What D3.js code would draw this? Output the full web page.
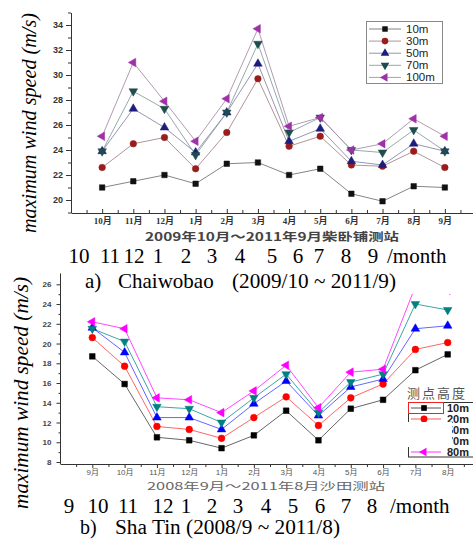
<!DOCTYPE html>
<html><head><meta charset="utf-8">
<script src="https://cdn.jsdelivr.net/npm/d3@7"></script>
<style>body{margin:0;background:#fff}svg{display:block}</style>
</head><body>
<script>
// ---- data: chart a) Chaiwobao ----
const monthsA = ["10月","11月","12月","1月","2月","3月","4月","5月","6月","7月","8月","9月"];
const seriesNamesA = ["10m","30m","50m","70m","100m"];
const a10m  = [21.0,21.5,22.0,21.3,22.9,23.0,22.0,22.5,20.5,19.9,21.1,21.0];
const a30m  = [22.6,24.5,25.0,22.5,25.4,29.7,24.3,25.1,22.8,22.7,23.9,22.6];
const a50m  = [23.9,27.3,25.8,23.8,27.0,30.9,24.7,25.7,23.1,22.8,24.5,23.9];
const a70m  = [23.9,28.7,27.3,23.6,27.0,32.5,25.4,26.6,24.0,23.8,25.6,23.9];
const a100m = [25.1,31.0,27.9,24.7,28.1,33.7,25.9,26.6,24.0,24.5,26.5,25.1];
const yTicksA = [20,22,24,26,28,30,32,34];

// ---- data: chart b) Sha Tin ----
const monthsB = ["9月","10月","11月","12月","1月","2月","3月","4月","5月","6月","7月","8月"];
const seriesNamesB = ["10m","20m","50m","70m","80m"];
const b10m = [18.7,15.9,10.5,10.2,9.4,10.7,13.2,10.2,13.4,14.3,17.3,18.9];
const b20m = [20.6,17.7,11.6,11.3,10.4,12.5,14.6,11.7,14.5,15.9,19.4,20.1];
const b50m = [21.6,19.1,12.5,12.5,11.3,13.9,16.2,12.7,15.6,16.4,21.5,21.8];
const b70m = [21.5,20.2,13.6,13.4,12.0,14.5,16.9,13.0,16.1,16.9,24.0,23.4];
const b80m = [22.2,21.5,14.5,14.3,13.0,15.2,17.8,13.5,17.1,17.4,25.8,25.4];
const yTicksB = [8,10,12,14,16,18,20,22,24,26];

const legendTitleB = "测点高度";
const subtitleA = "2009年10月～2011年9月柴卧铺测站";
const subtitleB = "2008年9月～2011年8月沙田测站";
const bigMonthsA = ["10","11","12","1","2","3","4","5","6","7","8","9"];
const bigMonthsB = ["9","10","11","12","1","2","3","4","5","6","7","8"];

const W = 473, H = 539;
const svg = d3.select("body").append("svg").attr("width", W).attr("height", H);

const shapes = [
  {t: d3.symbolSquare, r: 0},
  {t: d3.symbolCircle, r: 0},
  {t: d3.symbolTriangle, r: 0},
  {t: d3.symbolTriangle, r: 180},
  {t: d3.symbolTriangle, r: -90}
];

function markers(g, data, xs, ys, shape, size, fill, stroke) {
  g.selectAll(null).data(data).enter().append("path")
    .attr("d", d3.symbol().type(shape.t).size(size))
    .attr("transform", (d, i) => `translate(${xs(i + 1)},${ys(d)}) rotate(${shape.r})`)
    .attr("fill", fill).attr("stroke", stroke).attr("stroke-width", 0.5);
}

// ================= Chart A =================
{
  const x = d3.scaleLinear().domain([0, 13]).range([71, 476]);
  const y = d3.scaleLinear().domain([19, 35]).range([212.5, 12.5]);
  const g = svg.append("g");
  const sets = [a10m, a30m, a50m, a70m, a100m];
  const fills = ["#111111", "#9a1d1d", "#1d1d7d", "#1f4d4d", "#a030a8"];
  const lineCols = ["#777777", "#a88a8a", "#8a8aa8", "#8aa0a0", "#a890a8"];
  const sizes = [30, 34, 32, 32, 32];
  const line = d3.line().x((d, i) => x(i + 1)).y(d => y(d));
  sets.forEach((s, k) => {
    g.append("path").datum(s).attr("d", line).attr("fill", "none")
      .attr("stroke", lineCols[k]).attr("stroke-width", 0.9);
  });
  sets.forEach((s, k) => markers(g, s, x, y, shapes[k], sizes[k], fills[k], fills[k]));

  // y axis
  const ya = g.append("g").attr("transform", "translate(71,0)")
    .call(d3.axisLeft(y).tickValues(yTicksA).tickSize(5).tickSizeOuter(0).tickPadding(3));
  ya.selectAll("text").attr("font-family", "Liberation Sans, Arial").attr("font-weight", "bold")
    .attr("font-size", 9).attr("fill", "#333");
  ya.select(".domain").attr("stroke", "#333");
  ya.selectAll(".tick line").attr("stroke", "#333");
  g.append("g").attr("transform", "translate(71,0)")
    .call(d3.axisLeft(y).tickValues(d3.range(19, 36, 2)).tickSize(3).tickFormat(""))
    .call(s => s.select(".domain").remove()).selectAll("line").attr("stroke", "#333");

  // x axis
  const xa = g.append("g").attr("transform", "translate(0,213)")
    .call(d3.axisBottom(x).tickValues(d3.range(1, 13)).tickSize(-4).tickSizeOuter(0).tickPadding(5)
      .tickFormat((d) => monthsA[d - 1]));
  xa.select(".domain").attr("stroke", "#333").attr("stroke-width", 1.2);
  xa.selectAll(".tick line").attr("stroke", "#333");
  xa.selectAll("text").attr("font-family", "Liberation Serif, Noto Sans CJK SC").attr("font-weight", "bold")
    .attr("font-size", 9).attr("fill", "#333");
  g.append("g").attr("transform", "translate(0,213)")
    .call(d3.axisBottom(x).tickValues(d3.range(0.5, 13, 1)).tickSize(-3).tickFormat(""))
    .call(s => s.select(".domain").remove()).selectAll("line").attr("stroke", "#333");

  g.append("text").attr("x", 272).attr("y", 241).attr("text-anchor", "middle")
    .attr("font-family", "Noto Sans CJK SC").attr("font-size", 11.5).attr("font-weight", "bold")
    .attr("fill", "#444").attr("textLength", 254).attr("lengthAdjust", "spacingAndGlyphs").text(subtitleA);

  // legend
  const lg = g.append("g");
  lg.append("rect").attr("x", 366.5).attr("y", 21.5).attr("width", 76).attr("height", 62)
    .attr("fill", "#fff").attr("stroke", "#888").attr("stroke-width", 1);
  seriesNamesA.forEach((n, k) => {
    const yy = 29 + k * 12.1;
    lg.append("line").attr("x1", 369).attr("x2", 401).attr("y1", yy).attr("y2", yy)
      .attr("stroke", lineCols[k]).attr("stroke-width", 0.9);
    lg.append("path").attr("d", d3.symbol().type(shapes[k].t).size(sizes[k])())
      .attr("transform", `translate(385,${yy}) rotate(${shapes[k].r})`).attr("fill", fills[k]);
    lg.append("text").attr("x", 406).attr("y", yy + 4).attr("font-family", "Liberation Sans, Arial")
      .attr("font-size", 11.5).attr("fill", "#222").text(n);
  });

  g.append("text").attr("transform", "translate(36,123) rotate(-90)").attr("text-anchor", "middle")
    .attr("font-family", "Liberation Serif").attr("font-style", "italic").attr("font-size", 20)
    .attr("textLength", 220).attr("lengthAdjust", "spacingAndGlyphs")
    .text("maximum wind speed  (m/s)");
}

// ================= Chart B =================
{
  const x = d3.scaleLinear().domain([0, 13]).range([60, 480]);
  const y = d3.scaleLinear().domain([8, 26]).range([462, 284.3]);
  const g = svg.append("g");
  const sets = [b10m, b20m, b50m, b70m, b80m];
  const fills = ["#000000", "#ff0000", "#0000ff", "#008080", "#ff00ff"];
  const lineCols = ["#555555", "#ff5555", "#5555ff", "#2a9a9a", "#ff33ff"];
  const sizes = [32, 36, 32, 32, 32];
  const line = d3.line().x((d, i) => x(i + 1)).y(d => y(d));
  sets.forEach((s, k) => {
    g.append("path").datum(s).attr("d", line).attr("fill", "none")
      .attr("stroke", lineCols[k]).attr("stroke-width", 0.9);
  });
  sets.forEach((s, k) => markers(g, s, x, y, shapes[k], sizes[k], fills[k], fills[k]));

  const ya = g.append("g").attr("transform", "translate(60.5,0)")
    .call(d3.axisLeft(y).tickValues(yTicksB).tickSize(4).tickSizeOuter(0).tickPadding(5));
  ya.select(".domain").attr("d", `M0,${y(27.1)}V464`).attr("stroke", "#333");
  ya.selectAll(".tick line").attr("stroke", "#333");
  ya.selectAll("text").attr("font-family", "Liberation Sans, Arial").attr("font-weight", "bold")
    .attr("font-size", 8).attr("fill", "#444");
  g.append("g").attr("transform", "translate(60.5,0)")
    .call(d3.axisLeft(y).tickValues(d3.range(9, 27, 2)).tickSize(2).tickFormat(""))
    .call(s => s.select(".domain").remove()).selectAll("line").attr("stroke", "#333");

  const xa = g.append("g").attr("transform", "translate(0,464)")
    .call(d3.axisBottom(x).tickValues(d3.range(1, 13)).tickSize(4).tickSizeOuter(0).tickPadding(1)
      .tickFormat(d => monthsB[d - 1]));
  xa.select(".domain").attr("stroke", "#333");
  xa.selectAll(".tick line").attr("stroke", "#333");
  xa.selectAll("text").attr("font-family", "Liberation Sans, Noto Sans CJK SC").attr("font-size", 8)
    .attr("fill", "#555");
  g.append("g").attr("transform", "translate(0,464)")
    .call(d3.axisBottom(x).tickValues(d3.range(0.5, 13, 1)).tickSize(3).tickFormat(""))
    .call(s => s.select(".domain").remove()).selectAll("line").attr("stroke", "#333");

  g.append("text").attr("x", 266).attr("y", 490).attr("text-anchor", "middle")
    .attr("font-family", "Noto Sans CJK SC").attr("font-size", 10.5)
    .attr("fill", "#666").attr("textLength", 238).attr("lengthAdjust", "spacingAndGlyphs").text(subtitleB);

  // legend (partly covered)
  const lg = g.append("g");
  lg.append("text").attr("x", 407).attr("y", 398).attr("font-family", "Noto Sans CJK SC")
    .attr("font-size", 13).attr("fill", "#555").attr("letter-spacing", 2).text(legendTitleB);
  lg.append("rect").attr("x", 408.5).attr("y", 402.5).attr("width", 80).attr("height", 54.5)
    .attr("fill", "#fff").attr("stroke", "#333").attr("stroke-width", 1);
  lg.append("rect").attr("x", 408.5).attr("y", 402.5).attr("width", 35).attr("height", 11)
    .attr("fill", "none").attr("stroke", "#ee2222").attr("stroke-width", 1);
  seriesNamesB.forEach((n, k) => {
    const yy = 408 + k * 11;
    lg.append("line").attr("x1", 411).attr("x2", 441).attr("y1", yy).attr("y2", yy)
      .attr("stroke", lineCols[k]).attr("stroke-width", 1);
    lg.append("path").attr("d", d3.symbol().type(shapes[k].t).size(sizes[k])())
      .attr("transform", `translate(424,${yy}) rotate(${shapes[k].r})`).attr("fill", fills[k]);
    lg.append("text").attr("x", 447).attr("y", yy + 4).attr("font-family", "Liberation Sans, Arial")
      .attr("font-weight", "bold").attr("font-size", 11).attr("fill", "#222").text(n);
  });
  lg.append("rect").attr("x", 404).attr("y", 422).attr("width", 48).attr("height", 25).attr("fill", "#fff");

  g.append("text").attr("transform", "translate(28,393) rotate(-90)").attr("text-anchor", "middle")
    .attr("font-family", "Liberation Serif").attr("font-style", "italic").attr("font-size", 20)
    .attr("textLength", 232).attr("lengthAdjust", "spacingAndGlyphs")
    .text("maximum wind speed  (m/s)");

  // caption strip of chart a) covers the top of chart b)
  svg.append("rect").attr("x", 70).attr("y", 244).attr("width", 410).attr("height", 50).attr("fill", "#fff");
}

// ================= overlay texts =================
{
  const serif = "Liberation Serif, Times New Roman";
  const fs = 21;
  const posA = [79, 110, 134, 158, 186, 212, 240, 272, 298, 319, 346, 373];
  svg.selectAll(null).data(bigMonthsA).enter().append("text")
    .attr("x", (d, i) => posA[i]).attr("y", 263).attr("text-anchor", "middle")
    .attr("font-family", serif).attr("font-size", fs).attr("fill", "#000").text(d => d);
  svg.append("text").attr("x", 387).attr("y", 263).attr("font-family", serif).attr("font-size", fs).text("/month");
  svg.append("text").attr("x", 85).attr("y", 288).attr("font-family", serif).attr("font-size", fs).text("a)");
  svg.append("text").attr("x", 118).attr("y", 288).attr("font-family", serif).attr("font-size", fs).text("Chaiwobao");
  svg.append("text").attr("x", 232).attr("y", 288).attr("font-family", serif).attr("font-size", fs)
    .attr("textLength", 164).attr("lengthAdjust", "spacingAndGlyphs").text("(2009/10 ~ 2011/9)");

  const posB = [69, 98, 128, 163, 186, 212, 238, 266, 293, 320, 346, 372];
  svg.selectAll(null).data(bigMonthsB).enter().append("text")
    .attr("x", (d, i) => posB[i]).attr("y", 513).attr("text-anchor", "middle")
    .attr("font-family", serif).attr("font-size", fs).attr("fill", "#000").text(d => d);
  svg.append("text").attr("x", 390).attr("y", 513).attr("font-family", serif).attr("font-size", fs).text("/month");
  svg.append("text").attr("x", 80).attr("y", 534).attr("font-family", serif).attr("font-size", 20).text("b)");
  svg.append("text").attr("x", 115).attr("y", 534).attr("font-family", serif).attr("font-size", 20)
    .attr("textLength", 225).attr("lengthAdjust", "spacingAndGlyphs").text("Sha Tin (2008/9 ~ 2011/8)");
}
</script>
</body></html>
